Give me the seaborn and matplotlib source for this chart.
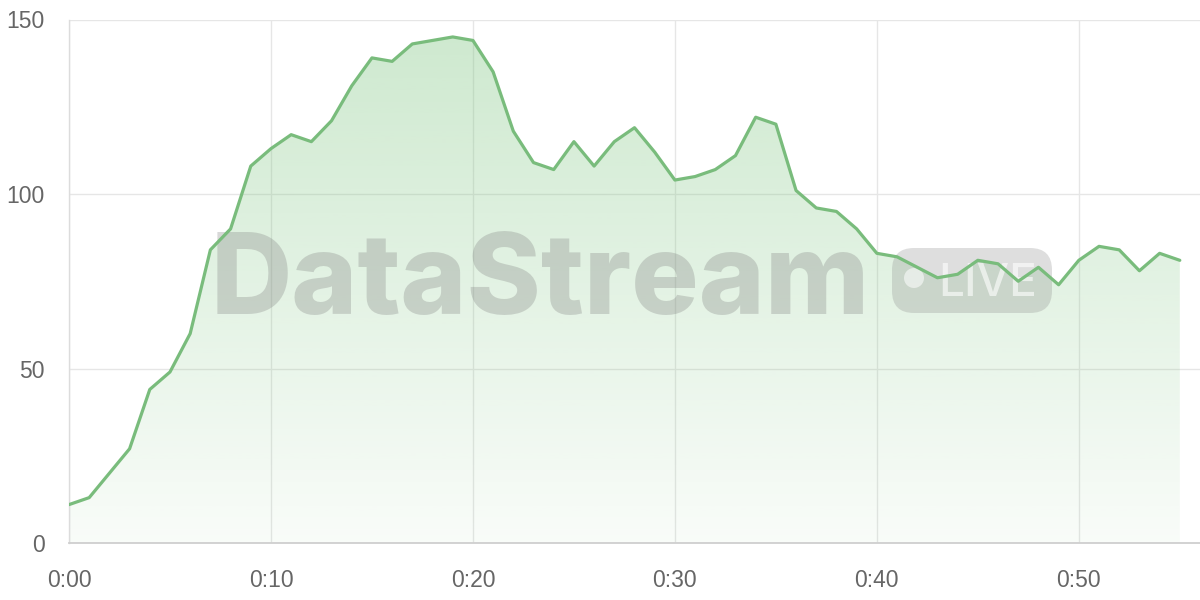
import numpy as np
import pandas as pd
import matplotlib
matplotlib.use("Agg")
import matplotlib.pyplot as plt
import seaborn as sns
from matplotlib.patches import FancyBboxPatch, Circle
from matplotlib.transforms import IdentityTransform

# ---- data ----
minutes = list(range(56))
values = [11, 13, 20, 27, 44, 49, 60, 84, 90, 108,
          113, 117, 115, 121, 131, 139, 138, 143, 144, 145,
          144, 135, 118, 109, 107, 115, 108, 115, 119, 112,
          104, 105, 107, 111, 122, 120, 101, 96, 95, 90,
          83, 82, 79, 76, 77, 81, 80, 75, 79, 74,
          81, 85, 84, 78, 83, 81]
x_ticks = [0, 10, 20, 30, 40, 50]
x_tick_labels = ["0:00", "0:10", "0:20", "0:30", "0:40", "0:50"]
y_ticks = [0, 50, 100, 150]
y_tick_labels = ["0", "50", "100", "150"]
watermark = "DataStream"
badge = "LIVE"

df = pd.DataFrame({"minute": minutes, "value": values})

sns.set_theme(style="white")
plt.rcParams["font.family"] = ["Liberation Sans", "DejaVu Sans"]

line_color = "#79bc7c"
grid_color = "#e6e6e6"
text_color = "#666666"

fig = plt.figure(figsize=(12, 6), dpi=100)
ax = fig.add_axes([69 / 1200, 57 / 600, 1 - 69 / 1200, (543 - 19.5) / 600])

ax.set_xlim(0, 56)
ax.set_ylim(0, 150)

# gradient fill under curve
poly = ax.fill_between(df["minute"], df["value"], 0, facecolor="none", edgecolor="none")
grad = np.linspace(0.05, 0.40, 256).reshape(-1, 1)
rgba = np.zeros((256, 1, 4))
rgba[..., 0] = 129 / 255
rgba[..., 1] = 199 / 255
rgba[..., 2] = 132 / 255
rgba[..., 3] = grad
im = ax.imshow(rgba, extent=[0, 55, 0, 150], origin="lower", aspect="auto", zorder=1)
path = poly.get_paths()[0]
im.set_clip_path(path, transform=ax.transData)
ax.set_xlim(0, 56)
ax.set_ylim(0, 150)

# line
sns.lineplot(data=df, x="minute", y="value", ax=ax, color=line_color, linewidth=2.3, zorder=3)

# grid and axes styling
ax.set_xticks(x_ticks)
ax.set_xticklabels(x_tick_labels)
ax.set_yticks(y_ticks)
ax.set_yticklabels(y_tick_labels)
ax.grid(True, color=grid_color, linewidth=1.0, zorder=0)
ax.set_axisbelow(True)
ax.tick_params(axis="both", which="both", length=11.5, width=1.0, color=grid_color,
               labelcolor=text_color, labelsize=16.5)
ax.tick_params(axis="y", pad=6.0)
ax.tick_params(axis="x", pad=7)
ax.set_xlabel("")
ax.set_ylabel("")
for s in ["top", "right"]:
    ax.spines[s].set_visible(False)
ax.spines["left"].set_color("#dcdcdc")
ax.spines["left"].set_linewidth(1.0)
ax.spines["bottom"].set_color("#cfcfcf")
ax.spines["bottom"].set_linewidth(1.3)

# watermark
wm = ax.text(211 / 1200, 1 - 314 / 600, watermark, transform=fig.transFigure,
             ha="left", va="baseline", fontsize=84, fontweight="heavy",
             family=["Inter", "Liberation Sans", "DejaVu Sans"],
             color="#808080", alpha=0.30, zorder=2)
renderer = fig.canvas.get_renderer()
w = wm.get_window_extent(renderer).width
wm.set_fontsize(84 * 659 / w)

pill = FancyBboxPatch((892, 600 - 313), 160, 65, boxstyle="round,pad=0,rounding_size=22",
                      transform=IdentityTransform(), facecolor="#8a8a8a", alpha=0.28,
                      edgecolor="none", zorder=2, clip_on=False)
ax.add_patch(pill)
dot = Circle((914, 600 - 278), 10, transform=IdentityTransform(), facecolor="white",
             alpha=0.55, edgecolor="none", zorder=2.1, clip_on=False)
ax.add_patch(dot)
ax.text(938 / 1200, 1 - 296 / 600, badge, transform=fig.transFigure,
        ha="left", va="baseline", fontsize=33, fontweight="medium",
        family=["Inter", "Liberation Sans", "DejaVu Sans"],
        color="white", alpha=0.6, zorder=2.1)

fig.savefig("out.png", dpi=100, facecolor="white")
